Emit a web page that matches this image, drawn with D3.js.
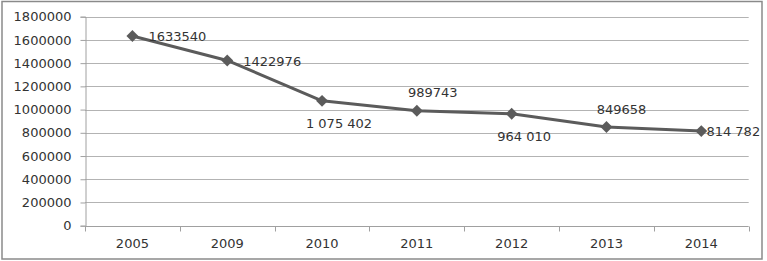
<!DOCTYPE html>
<html>
<head>
<meta charset="utf-8">
<script src="https://cdn.jsdelivr.net/npm/d3@7/dist/d3.min.js"></script>
<style>
  html, body { margin: 0; padding: 0; background: #fff; }
  svg { display: block; }
  text { font-family: "DejaVu Sans", Verdana, sans-serif; }
</style>
</head>
<body>
<svg id="chart" width="767" height="261"></svg>
<script>
// ---- data ----
const years = ["2005", "2009", "2010", "2011", "2012", "2013", "2014"];
const values = [1633540, 1422976, 1075402, 989743, 964010, 849658, 814782];
const valueLabels = ["1633540", "1422976", "1 075 402", "989743", "964 010", "849658", "814 782"];
const yTicks = [0, 200000, 400000, 600000, 800000, 1000000, 1200000, 1400000, 1600000, 1800000];
const yTickLabels = ["0", "200000", "400000", "600000", "800000", "1000000", "1200000", "1400000", "1600000", "1800000"];

// label placement (style)
const labelPlacement = ["right", "right", "below", "above", "below", "above", "right"];
const labelDx = [45, 45, 17, 16, 12.5, 15, 32];

// ---- layout ----
const svg = d3.select("#chart");
const plotL = 85, plotR = 748.7, plotT = 16.7, plotB = 225.7;

const x = d3.scaleBand().domain(years).range([plotL, plotR]).padding(0);
const y = d3.scaleLinear().domain([0, 1800000]).range([plotB, plotT]);

// outer border
svg.append("rect")
  .attr("x", 2).attr("y", 1.5).attr("width", 760).attr("height", 257.5)
  .attr("fill", "none").attr("stroke", "#8a8a8a").attr("stroke-width", 1.5);

// gridlines
svg.append("g").selectAll("line")
  .data(yTicks.filter(d => d > 0))
  .join("line")
  .attr("x1", plotL).attr("x2", plotR)
  .attr("y1", d => Math.round(y(d)) + 0.5).attr("y2", d => Math.round(y(d)) + 0.5)
  .attr("stroke", "#b3b3b3").attr("stroke-width", 1);

// y axis
const yAxis = d3.axisLeft(y)
  .tickValues(yTicks)
  .tickFormat((d, i) => yTickLabels[i])
  .tickSize(5).tickPadding(9);
const gy = svg.append("g").attr("transform", `translate(${plotL + 0.5},0)`).call(yAxis);
gy.select(".domain").attr("stroke", "#a0a0a0");
gy.selectAll(".tick line").attr("stroke", "#a0a0a0");
gy.selectAll(".tick text")
  .attr("fill", "#333").style("font-size", "13px")
  .style("font-family", "'DejaVu Sans', Verdana, sans-serif");

// x axis line
const y0 = Math.round(y(0)) + 0.5;
svg.append("line")
  .attr("x1", plotL).attr("x2", plotR).attr("y1", y0).attr("y2", y0)
  .attr("stroke", "#a0a0a0");

// boundary ticks
const boundaries = years.map(d => x(d)).concat([x(years[years.length - 1]) + x.bandwidth()]);
svg.append("g").selectAll("line")
  .data(boundaries)
  .join("line")
  .attr("x1", d => Math.round(d) + 0.5).attr("x2", d => Math.round(d) + 0.5)
  .attr("y1", y0).attr("y2", y0 + 5)
  .attr("stroke", "#a0a0a0");

// x labels
svg.append("g").selectAll("text")
  .data(years)
  .join("text")
  .attr("x", d => x(d) + x.bandwidth() / 2)
  .attr("y", 248)
  .attr("text-anchor", "middle")
  .attr("fill", "#333")
  .style("font-size", "13px")
  .text(d => d);

// line
const pts = years.map((d, i) => [x(d) + x.bandwidth() / 2, y(values[i])]);
svg.append("path")
  .datum(pts)
  .attr("d", d3.line())
  .attr("fill", "none")
  .attr("stroke", "#5b5b5b")
  .attr("stroke-width", 3)
  .attr("stroke-linejoin", "round");

// markers
svg.append("g").selectAll("path")
  .data(pts)
  .join("path")
  .attr("transform", d => `translate(${d[0]},${d[1]})`)
  .attr("d", d3.symbol().type(d3.symbolDiamond2).size(90))
  .attr("fill", "#5b5b5b");

// value labels
svg.append("g").selectAll("text")
  .data(pts)
  .join("text")
  .attr("x", (d, i) => d[0] + labelDx[i])
  .attr("y", (d, i) => {
    const p = labelPlacement[i];
    const dy = p === "above" ? -18 : p === "below" ? 22.5 : 0.5;
    return d[1] + dy;
  })
  .attr("dy", "0.36em")
  .attr("text-anchor", "middle")
  .attr("fill", "#333")
  .style("font-size", "13px")
  .text((d, i) => valueLabels[i]);
</script>
</body>
</html>
